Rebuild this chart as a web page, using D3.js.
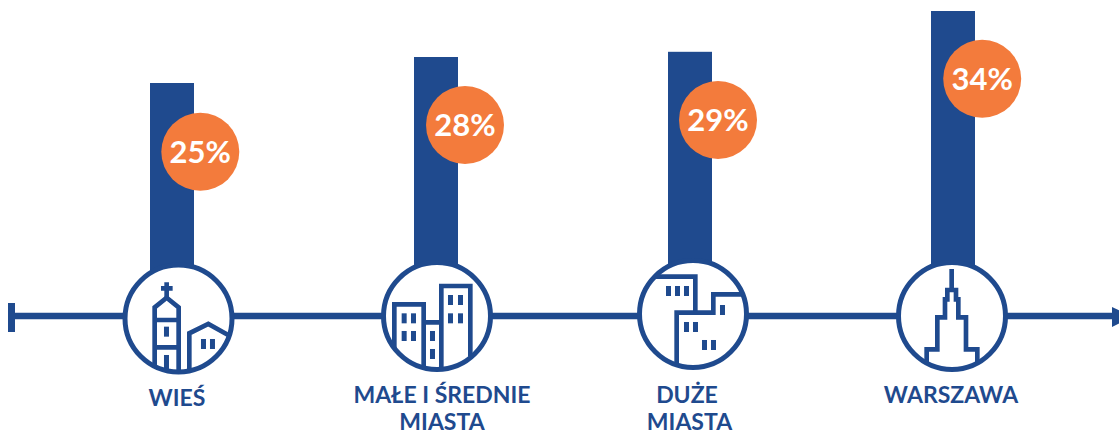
<!DOCTYPE html>
<html>
<head>
<meta charset="utf-8">
<script src="https://cdn.jsdelivr.net/npm/d3@7"></script>
<style>
    html, body { margin: 0; padding: 0; background: #fff; }
    svg { display: block; }
    text { font-family: Lato, "Open Sans", sans-serif; font-weight: 700; }
</style>
</head>
<body>
<div id="chart"></div>
<script>
var categories = ['WIEŚ', 'MAŁE I ŚREDNIE MIASTA', 'DUŻE MIASTA', 'WARSZAWA'];
var labelLines = [['WIEŚ'], ['MAŁE I ŚREDNIE', 'MIASTA'], ['DUŻE', 'MIASTA'], ['WARSZAWA']];
var percentLabels = [25, 28, 29, 34];
// bar heights, they are a bit off the rounded labels
var barValues = [25, 28.25, 28.9, 34];

var navy = '#1f4a8e';
var orange = '#f37b3c';
var width = 1119, height = 432;

var x = d3.scaleOrdinal().domain(categories).range([172, 436, 690, 953]);
var y = d3.scaleLinear().domain([0, 34]).range([283, 11]);

// the layout of the picture is hand placed, not regular
var circleX = [178.5, 437, 693, 952];
var circleY = [318.5, 316, 314, 316];
var bubbleX = [200.3, 465, 718, 982.2];
var bubbleY = [151.8, 125, 120, 78.8];
var labelX = [[177], [442, 442], [687, 689.5], [951]];
var labelY = [[406], [403, 430], [403, 430], [403]];

// icons are traced at 3x, origin is the top left of the traced crop
var icons = [
    {
        origin: [0, 250],
        lines: [
            'M464,370V172L500,143L536,172V370',
            'M464,210H536', 'M464,292H536', 'M500,97V143', 'M483,115H518',
            'M568,370V250L625,222L690,258'
        ],
        windows: [[492, 230], [603, 267], [630, 267]],
        doors: [[492, 315]]
    },
    {
        origin: [350, 250],
        lines: [
            'M133,350V163H221V370', 'M221,217H274',
            'M274,370V108H361V320'
        ],
        windows: [[155, 190], [183, 190], [155, 243], [183, 243], [240, 243], [240, 297], [294, 135], [324, 135], [294, 190], [324, 190]],
        doors: []
    },
    {
        origin: [620, 250],
        lines: [
            'M80,80H226V188', 'M170,350V188H280V133H380'
        ],
        windows: [[138, 108], [165, 108], [192, 108], [300, 165], [192, 216], [219, 216], [246, 270], [273, 270]],
        doors: []
    },
    {
        origin: [870, 250],
        lines: [
            'M245,57V120',
            'M170,345V298H202V202H225V148H232V120H258V148H265V202H288V298H322V345'
        ],
        windows: [],
        doors: []
    }
];

var svg = d3.select('#chart')
  .append('svg')
    .attr('width', width)
    .attr('height', height);

// bars
svg.selectAll('rect.bar')
    .data(categories)
    .enter()
  .append('rect')
    .attr('class', 'bar')
    .attr('x', function(d) { return x(d) - 22; })
    .attr('y', function(d, i) { return y(barValues[i]); })
    .attr('width', 44)
    .attr('height', function(d, i) { return y(0) - y(barValues[i]); })
    .attr('fill', navy);

// axis line with the end cap and the arrow
svg.append('line')
    .attr('x1', 10).attr('x2', 1114)
    .attr('y1', 316).attr('y2', 316)
    .attr('stroke', navy)
    .attr('stroke-width', 6.5);
svg.append('rect')
    .attr('x', 8).attr('y', 303)
    .attr('width', 7).attr('height', 29)
    .attr('fill', navy);
// the arrow tip runs past the right edge of the picture
svg.append('path')
    .attr('d', 'M1112,307L1133,316.5L1112,327Z')
    .attr('fill', navy);

// circles with the icons
var defs = svg.append('defs');
categories.forEach(function(d, i) {
    defs.append('clipPath')
        .attr('id', 'clip' + i)
      .append('circle')
        .attr('cx', circleX[i])
        .attr('cy', circleY[i])
        .attr('r', 53.5);

    var g = svg.append('g');
    g.append('circle')
        .attr('cx', circleX[i])
        .attr('cy', circleY[i])
        .attr('r', 53.5)
        .attr('fill', '#fff');

    var icon = g.append('g')
        .attr('clip-path', 'url(#clip' + i + ')')
      .append('g')
        .attr('transform', 'translate(' + icons[i].origin[0] + ',' + icons[i].origin[1] + ') scale(0.3333)');

    icon.selectAll('path')
        .data(icons[i].lines)
        .enter()
      .append('path')
        .attr('d', function(p) { return p; })
        .attr('fill', 'none')
        .attr('stroke', navy)
        .attr('stroke-width', 14)
        .attr('stroke-linejoin', 'miter');

    icon.selectAll('rect.window')
        .data(icons[i].windows)
        .enter()
      .append('rect')
        .attr('class', 'window')
        .attr('x', function(w) { return w[0]; })
        .attr('y', function(w) { return w[1]; })
        .attr('width', 15)
        .attr('height', 30)
        .attr('fill', navy);

    icon.selectAll('rect.door')
        .data(icons[i].doors)
        .enter()
      .append('rect')
        .attr('class', 'door')
        .attr('x', function(w) { return w[0]; })
        .attr('y', function(w) { return w[1]; })
        .attr('width', 15)
        .attr('height', 50)
        .attr('fill', navy);

    g.append('circle')
        .attr('cx', circleX[i])
        .attr('cy', circleY[i])
        .attr('r', 53.5)
        .attr('fill', 'none')
        .attr('stroke', navy)
        .attr('stroke-width', 5);
});

// orange bubbles
svg.selectAll('circle.bubble')
    .data(percentLabels)
    .enter()
  .append('circle')
    .attr('class', 'bubble')
    .attr('cx', function(d, i) { return bubbleX[i]; })
    .attr('cy', function(d, i) { return bubbleY[i]; })
    .attr('r', 39)
    .attr('fill', orange);

svg.selectAll('text.pct')
    .data(percentLabels)
    .enter()
  .append('text')
    .attr('class', 'pct')
    .attr('x', function(d, i) { return bubbleX[i]; })
    .attr('y', function(d, i) { return bubbleY[i] + 11; })
    .attr('text-anchor', 'middle')
    .attr('fill', '#fff')
    .style('font-size', '31px')
    .text(function(d) { return d + '%'; });

// category labels
labelLines.forEach(function(lines, i) {
    lines.forEach(function(line, j) {
        svg.append('text')
            .attr('x', labelX[i][j])
            .attr('y', labelY[i][j])
            .attr('text-anchor', 'middle')
            .attr('fill', navy)
            .style('font-size', '23px')
            .text(line);
    });
});
</script>
</body>
</html>
